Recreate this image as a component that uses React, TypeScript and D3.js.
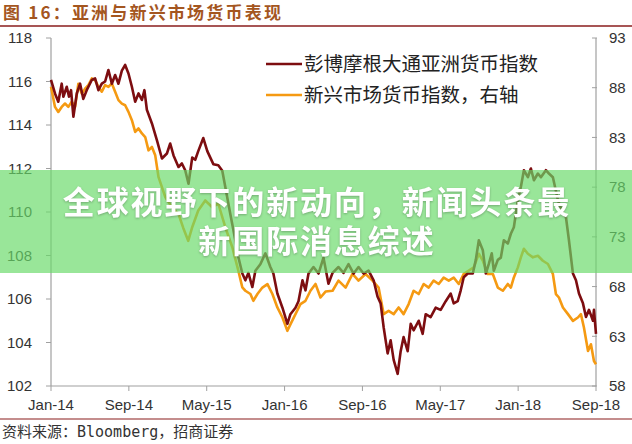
import React from "react";
import * as d3 from "d3";

const titleText = "图 16：亚洲与新兴市场货币表现";
const sourceText = "资料来源：Bloomberg，招商证券";
const seriesNames = ["彭博摩根大通亚洲货币指数", "新兴市场货币指数，右轴"];
const overlayLines = ["全球视野下的新动向，新闻头条最", "新国际消息综述"];

const xTickLabels = ["Jan-14", "Sep-14", "May-15", "Jan-16", "Sep-16", "May-17", "Jan-18", "Sep-18"];
const xTickMonths = [0, 8, 16, 24, 32, 40, 48, 56];
const leftTicks = [102, 104, 106, 108, 110, 112, 114, 116, 118];
const rightTicks = [58, 63, 68, 73, 78, 83, 88, 93];

// months since Jan-2014
const asiaMonths = [
  0, 0.41, 0.75, 1.1, 1.27, 1.62, 1.85, 2.06, 2.3, 2.65, 2.99, 3.32, 3.67, 4.19, 4.53, 4.87, 5.22, 5.56, 5.9,
  6.25, 6.59, 6.93, 7.28, 7.62, 7.96, 8.31, 8.65, 8.99, 9.34, 9.6, 9.85, 10.37, 10.88, 11.4, 11.91, 12.25,
  12.59, 13.1, 13.45, 13.79, 14.13, 14.51, 14.82, 15.13, 15.65, 16.06, 16.37, 16.68, 17.19, 17.6, 17.91,
  18.43, 18.94, 19.25, 19.66, 19.97, 20.28, 20.69, 21.0, 21.51, 22.03, 22.54, 22.85, 23.26, 23.78, 24.29,
  24.6, 25.12, 25.43, 25.84, 26.15, 26.46, 26.97, 27.49, 28.0, 28.51, 28.93, 29.54, 30.06, 30.57, 31.09,
  31.6, 32.12, 32.63, 33.15, 33.56, 33.87, 34.18, 34.59, 34.9, 35.21, 35.62, 35.93, 36.23, 36.65, 36.96,
  37.26, 37.78, 38.19, 38.5, 39.01, 39.53, 40.04, 40.56, 41.07, 41.38, 41.79, 42.1, 42.41, 42.82, 43.34,
  43.65, 43.96, 44.37, 44.68, 44.98, 45.29, 45.5, 45.91, 46.22, 46.53, 46.94, 47.25, 47.56, 47.97, 48.28,
  48.59, 49.0, 49.31, 49.62, 50.03, 50.34, 50.85, 51.16, 51.57, 52.09, 52.6, 52.91, 53.22, 53.63, 53.94,
  54.25, 54.66, 54.97, 55.28, 55.69, 55.79, 56,
];
const asiaValues = [
  116.07, 115.45, 115.07, 115.9, 115.3, 115.76, 115.3, 115.6, 114.38, 115.45, 115.9, 115.2, 115.6, 116.07,
  116.14, 115.6, 115.9, 116.0, 116.53, 115.9, 116.3, 115.9, 116.5, 116.76, 116.37, 115.76, 115.07, 115.45,
  115.15, 115.6, 114.7, 114.07, 113.3, 112.46, 112.69, 113.15, 112.6, 112.07, 112.23, 111.92, 111.3, 112.5,
  112.4, 112.8, 113.4, 112.8, 112.5, 112.2, 112.15, 111.9, 111.15, 109.9, 108.7, 107.93, 107.17, 106.86,
  107.2, 106.55, 107.3, 107.6, 108.1, 107.47, 107.17, 106.25, 105.6, 104.86, 105.3, 105.6, 105.9, 106.86,
  106.4, 107.17, 107.47, 107.17, 107.9, 106.7, 107.2, 107.47, 107.2, 107.6, 107.17, 107.47, 107.17, 107.3,
  106.86, 106.1, 105.8, 104.7, 103.5, 104.1, 103.2, 102.56, 103.6, 104.25, 103.6, 104.86, 104.56, 105.0,
  104.4, 105.3, 105.17, 105.6, 105.5, 105.9, 106.25, 105.8, 105.9, 106.4, 107.0, 107.17, 107.17, 107.8,
  108.7, 108.24, 107.17, 107.6, 108.1, 107.3, 107.8, 107.9, 108.7, 108.55, 109.0, 109.3, 110.54, 111.15,
  111.92, 111.6, 112.0, 111.46, 111.77, 111.6, 111.92, 111.77, 111.6, 110.54, 109.93, 109.77, 108.7, 107.17,
  106.86, 106.25, 105.8, 105.17, 105.5, 105.0, 105.5, 104.4,
];

const emMonths = [
  0, 0.41, 0.75, 1.1, 1.44, 1.78, 2.13, 2.47, 2.81, 3.16, 3.5, 3.84, 4.19, 4.53, 4.87, 5.22, 5.56, 5.9, 6.25,
  6.59, 6.93, 7.28, 7.62, 7.96, 8.31, 8.65, 8.99, 9.34, 9.68, 10.02, 10.37, 10.71, 11.05, 11.4, 11.74,
  12.43, 13.1, 13.59, 14.1, 14.51, 15.13, 15.85, 16.57, 17.19, 17.91, 18.63, 19.25, 19.66, 19.97, 20.49,
  20.79, 21.21, 21.72, 22.24, 22.75, 23.26, 23.78, 24.29, 24.6, 25.12, 25.63, 26.15, 26.66, 27.18, 27.69,
  28.21, 28.93, 29.54, 30.27, 30.98, 31.6, 32.32, 33.04, 33.66, 34.18, 34.69, 35.21, 35.72, 36.23, 36.75,
  37.26, 37.78, 38.29, 38.81, 39.32, 39.84, 40.35, 40.87, 41.38, 41.9, 42.41, 42.93, 43.44, 43.96, 44.37,
  44.88, 45.4, 45.91, 46.43, 46.94, 47.25, 47.56, 47.97, 48.28, 48.59, 49.0, 49.52, 50.03, 50.54, 51.06,
  51.57, 51.88, 52.19, 52.6, 53.12, 53.63, 54.14, 54.45, 54.76, 55.18, 55.48, 55.79, 56,
];
const emValues = [
  88.09, 86.07, 85.56, 86.07, 86.41, 86.07, 86.6, 86.07, 88.4, 87.4, 87.9, 88.26, 88.93, 88.76, 88.09, 87.6,
  88.26, 88.09, 88.43, 87.6, 86.75, 86.4, 86.24, 85.57, 84.73, 83.55, 83.9, 83.4, 83.04, 81.7, 82.04, 81.2,
  79.0, 78.0, 77.0, 75.98, 75.3, 73.9, 72.6, 73.97, 75.65, 76.66, 75.98, 76.33, 73.97, 71.95, 69.6, 67.91,
  67.58, 67.25, 66.57, 67.25, 67.9, 68.25, 67.25, 65.9, 64.89, 63.55, 64.2, 65.23, 66.24, 66.57, 67.58,
  68.26, 66.9, 67.5, 67.58, 68.6, 67.9, 69.27, 68.6, 69.27, 68.6, 67.9, 65.23, 65.56, 65.23, 65.9, 65.23,
  66.24, 67.58, 67.25, 68.26, 67.9, 68.6, 68.26, 68.9, 68.6, 68.9, 68.26, 69.27, 69.6, 69.93, 71.3, 70.6,
  69.27, 69.27, 67.9, 67.58, 68.26, 67.9, 68.92, 69.93, 70.94, 71.8, 71.3, 70.94, 71.1, 70.6, 70.27, 69.27,
  67.25, 66.9, 65.9, 65.23, 64.55, 64.89, 65.23, 63.88, 61.53, 62.2, 60.52, 60.19,
];

const W = 632;
const H = 444;
const M = { left: 51, right: 596, top: 38, bottom: 386 };

const ASIA_COLOR = "#7d0d10";
const EM_COLOR = "#f59a12";
const AXIS_COLOR = "#a0a0a0";
const TEXT_COLOR = "#333333";
const LATIN = "'Liberation Sans', Arial, sans-serif";
const CJK = "'Noto Sans CJK SC', 'Noto Sans', sans-serif";
const MONO_CJK = "'DejaVu Sans Mono', 'Noto Sans CJK SC', monospace";

export default function App() {
  const x = d3.scaleLinear().domain([0, 56]).range([M.left, M.right]);
  const yL = d3.scaleLinear().domain([102, 118]).range([M.bottom, M.top]);
  const yR = d3.scaleLinear().domain([58, 93]).range([M.bottom, M.top]);

  const asiaData = asiaMonths.map((m, i) => [m, asiaValues[i]] as [number, number]);
  const emData = emMonths.map((m, i) => [m, emValues[i]] as [number, number]);

  const asiaLine = d3
    .line<[number, number]>()
    .x((d) => x(d[0]))
    .y((d) => yL(d[1]));
  const emLine = d3
    .line<[number, number]>()
    .x((d) => x(d[0]))
    .y((d) => yR(d[1]));

  return (
    <div style={{ position: "fixed", left: 0, top: 0, width: W, height: H, background: "#fff" }}>
      <svg width={W} height={H} viewBox={`0 0 ${W} ${H}`} style={{ display: "block" }}>
        <rect x={0} y={0} width={W} height={H} fill="#fff" />
        {/* title */}
        <text
          x={3}
          y={19}
          fontFamily={CJK}
          fontWeight={700}
          fontSize={17}
          letterSpacing={2.2}
          fill="#a4561f"
        >
          {titleText}
        </text>
        <line x1={0} x2={W} y1={26} y2={26} stroke="#8a1c1c" strokeWidth={1.5} />

        {/* axes */}
        <line x1={M.left} x2={M.left} y1={M.top} y2={M.bottom} stroke={AXIS_COLOR} strokeWidth={1.2} />
        <line x1={M.right} x2={M.right} y1={M.top} y2={M.bottom} stroke={AXIS_COLOR} strokeWidth={1.2} />
        <line x1={M.left} x2={M.right} y1={M.bottom} y2={M.bottom} stroke={AXIS_COLOR} strokeWidth={1.2} />

        {leftTicks.map((t) => (
          <g key={"l" + t}>
            <line x1={M.left - 5} x2={M.left} y1={yL(t)} y2={yL(t)} stroke={AXIS_COLOR} strokeWidth={1} />
            <text
              x={32}
              y={yL(t)}
              dy="0.35em"
              textAnchor="end"
              fontFamily={LATIN}
              fontSize={15}
              fill={TEXT_COLOR}
            >
              {t}
            </text>
          </g>
        ))}
        {rightTicks.map((t) => (
          <g key={"r" + t}>
            <line x1={M.right - 4} x2={M.right + 1} y1={yR(t)} y2={yR(t)} stroke={AXIS_COLOR} strokeWidth={1} />
            <text x={609} y={yR(t)} dy="0.35em" fontFamily={LATIN} fontSize={15} fill={TEXT_COLOR}>
              {t}
            </text>
          </g>
        ))}
        {xTickMonths.map((m, i) => (
          <g key={"x" + m}>
            <line x1={x(m)} x2={x(m)} y1={M.bottom} y2={M.bottom + 5} stroke={AXIS_COLOR} strokeWidth={1} />
            <text
              x={x(m)}
              y={410}
              textAnchor="middle"
              fontFamily={LATIN}
              fontSize={15}
              fill={TEXT_COLOR}
            >
              {xTickLabels[i]}
            </text>
          </g>
        ))}

        {/* series */}
        <path d={emLine(emData) || ""} fill="none" stroke={EM_COLOR} strokeWidth={2.6} strokeLinejoin="round" />
        <path d={asiaLine(asiaData) || ""} fill="none" stroke={ASIA_COLOR} strokeWidth={2.6} strokeLinejoin="round" />

        {/* legend */}
        <line x1={266} x2={302} y1={64} y2={64} stroke={ASIA_COLOR} strokeWidth={2.6} />
        <text x={304} y={64} dy="0.36em" fontFamily={CJK} fontSize={19.5} fill="#222">
          {seriesNames[0]}
        </text>
        <line x1={266} x2={302} y1={95} y2={95} stroke={EM_COLOR} strokeWidth={2.6} />
        <text x={304} y={95} dy="0.36em" fontFamily={CJK} fontSize={19.5} fill="#222">
          {seriesNames[1]}
        </text>

        {/* source */}
        <line x1={0} x2={W} y1={419} y2={419} stroke="#8a1c1c" strokeWidth={1.2} />
        <text x={2} y={437} fontFamily={MONO_CJK} fontSize={15} fill="#333">
          {sourceText}
        </text>

        {/* overlay banner */}
        <rect x={0} y={170} width={W} height={103} fill="rgb(104,218,104)" opacity={0.68} />
        <text
          textAnchor="middle"
          fontFamily={CJK}
          fontWeight={700}
          fontSize={32}
          letterSpacing={1.9}
          fill="#ffffff"
          style={{ filter: "drop-shadow(0px 1px 1px rgba(0,0,0,0.25))" }}
        >
          {overlayLines.map((line, i) => (
            <tspan key={i} x={317} y={213.5 + i * 39}>
              {line}
            </tspan>
          ))}
        </text>
      </svg>
    </div>
  );
}
